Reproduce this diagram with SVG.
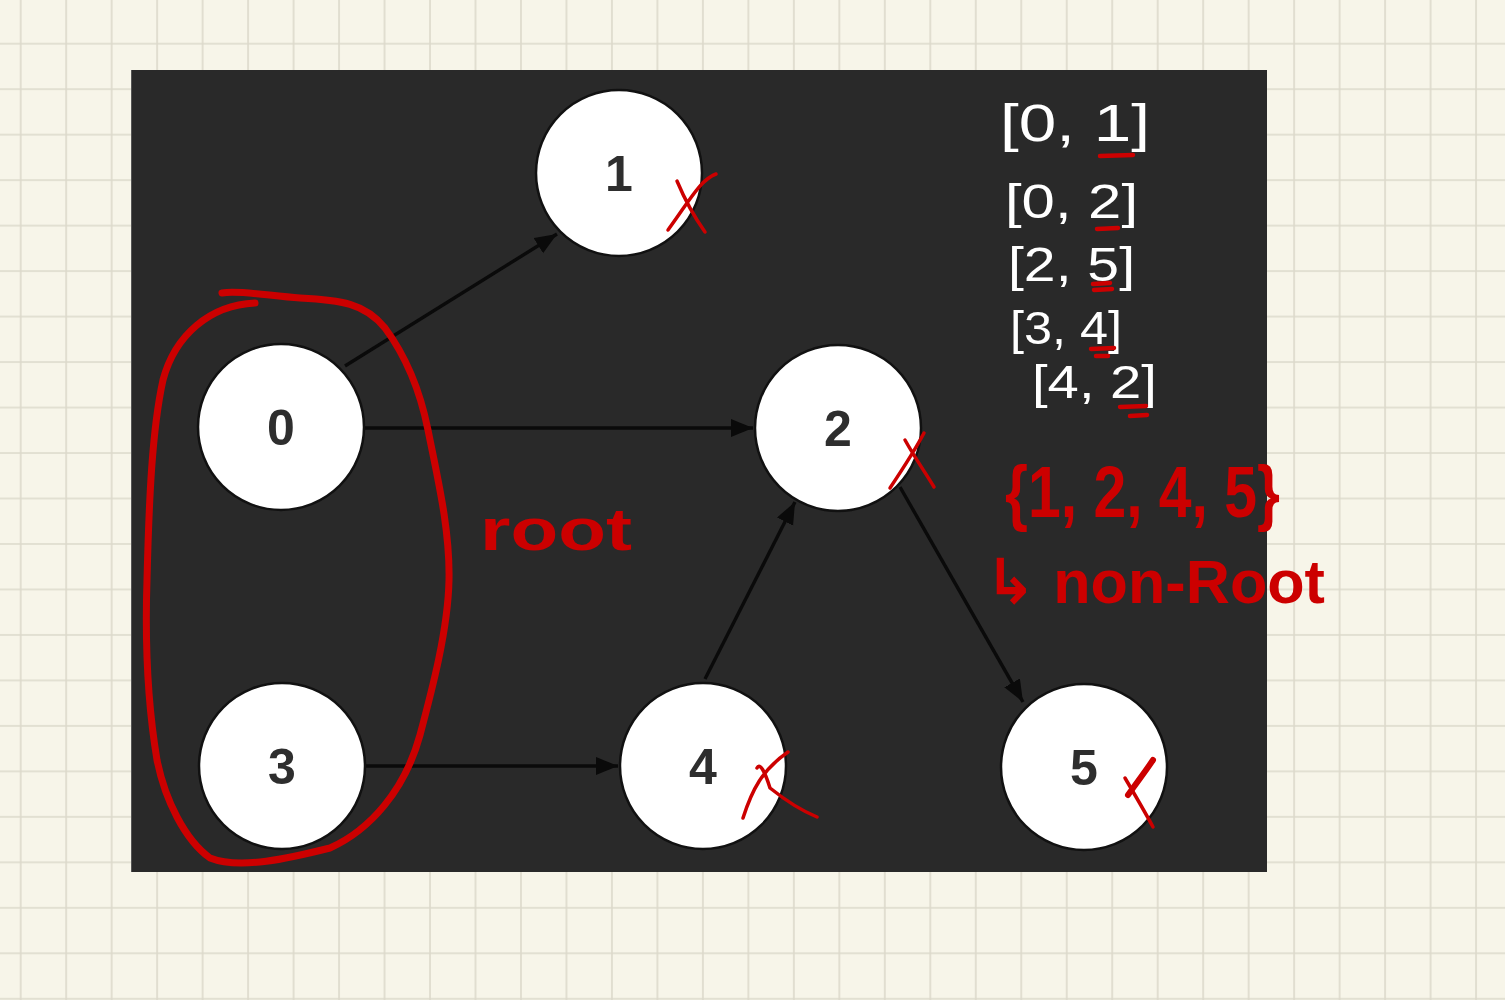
<svg xmlns="http://www.w3.org/2000/svg" width="1505" height="1000" viewBox="0 0 1505 1000">
  <defs>
    <pattern id="grid" patternUnits="userSpaceOnUse" x="-2.04" y="20.96" width="45.48" height="45.48">
      <rect width="45.48" height="45.48" fill="#f7f5e9"/>
      <path d="M22.74,0 V45.48 M0,22.74 H45.48" stroke="#dcd9cb" stroke-width="1.6" fill="none"/>
    </pattern>
    <marker id="arrow" markerUnits="userSpaceOnUse" markerWidth="24" markerHeight="20" refX="22" refY="9" orient="auto">
      <path d="M0,0 L22,9 L0,18 z" fill="#0a0a0a"/>
    </marker>
    <style>
      .node circle { fill: #ffffff; stroke: #111111; stroke-width: 2.5; }
      .node text { font-family: "Liberation Sans", Arial, sans-serif; font-size: 50px; font-weight: bold; fill: #2e2e2e; text-anchor: middle; }
      .edge { stroke: #0a0a0a; stroke-width: 3.4; fill: none; marker-end: url(#arrow); }
      .ink { fill: none; stroke: #cc0000; stroke-linecap: round; stroke-linejoin: round; }
      .white { font-family: "Liberation Sans", Arial, sans-serif; fill: #ffffff; }
      .red { font-family: "Liberation Sans", "DejaVu Sans", sans-serif; fill: #cc0000; font-weight: bold; }
    </style>
  </defs>

  <rect x="0" y="0" width="1505" height="1000" fill="url(#grid)"/>
  <rect x="131.5" y="70" width="1135.5" height="802" fill="#292929"/>
  <line x1="131.5" y1="70" x2="131.5" y2="872" stroke="#555555" stroke-width="1"/>

  <g id="connectors">
    <line class="edge" x1="345" y1="366" x2="557" y2="234"/>
    <line class="edge" x1="365" y1="428" x2="753" y2="428"/>
    <line class="edge" x1="365" y1="766" x2="618" y2="766"/>
    <line class="edge" x1="705" y1="679" x2="795" y2="502"/>
    <line class="edge" x1="900" y1="487" x2="1023" y2="702"/>
  </g>

  <g id="node-0" class="node"><circle cx="281" cy="427" r="83"/><text x="281" y="445">0</text></g>
  <g id="node-1" class="node"><circle cx="619" cy="173" r="83"/><text x="619" y="191">1</text></g>
  <g id="node-2" class="node"><circle cx="838" cy="428" r="83"/><text x="838" y="446">2</text></g>
  <g id="node-3" class="node"><circle cx="282" cy="766" r="83"/><text x="282" y="784">3</text></g>
  <g id="node-4" class="node"><circle cx="703" cy="766" r="83"/><text x="703" y="784">4</text></g>
  <g id="node-5" class="node"><circle cx="1084" cy="767" r="83"/><text x="1084" y="785">5</text></g>

  <g id="annotations">
    <path class="ink" stroke-width="7" d="M222,293 C240,290 270,296 300,298 C340,300 365,303 385,328 C405,355 420,390 428,430 C438,480 450,530 449,580 C448,630 432,690 420,735 C405,790 370,830 330,848 C290,858 240,870 210,858 C185,840 165,800 157,760 C147,700 145,640 147,580 C149,500 152,430 163,380 C175,335 210,305 255,303"/>
    <text class="red" x="480" y="550" font-size="60" textLength="152" lengthAdjust="spacingAndGlyphs">root</text>

    <path class="ink" stroke-width="3.5" d="M677,181 C685,200 695,218 705,232 M716,174 C700,180 690,200 668,230"/>
    <path class="ink" stroke-width="3.5" d="M924,433 C915,450 902,470 890,488 M905,440 C915,458 925,472 934,487"/>
    <path class="ink" stroke-width="3.5" d="M743,818 C752,790 762,770 788,752 M757,768 C760,762 765,772 770,788 C785,800 800,810 817,817"/>
    <path class="ink" stroke-width="3.5" d="M1125,778 C1135,795 1145,812 1153,827"/>
    <path class="ink" stroke-width="6" d="M1153,760 C1145,772 1135,785 1128,795"/>

    <text class="white" x="1000" y="141" font-size="52" textLength="150" lengthAdjust="spacingAndGlyphs">[0, 1]</text>
    <text class="white" x="1005" y="218" font-size="48" textLength="133" lengthAdjust="spacingAndGlyphs">[0, 2]</text>
    <text class="white" x="1008" y="281" font-size="48" textLength="127" lengthAdjust="spacingAndGlyphs">[2, 5]</text>
    <text class="white" x="1010" y="344" font-size="46" textLength="112" lengthAdjust="spacingAndGlyphs">[3, 4]</text>
    <text class="white" x="1032" y="398" font-size="46" textLength="125" lengthAdjust="spacingAndGlyphs">[4, 2]</text>

    <path class="ink" stroke-width="4.5" d="M1100,156 L1133,155 M1097,229 L1118,228 M1093,284 L1110,283 M1094,290 L1112,289 M1091,349 L1114,348 M1096,356 L1108,356 M1120,407 L1146,406 M1130,416 L1147,415"/>

    <text class="red" x="1005" y="517" font-size="72" textLength="275" lengthAdjust="spacingAndGlyphs">{1, 2, 4, 5}</text>
    <text class="red" x="985" y="603" font-size="62" textLength="340" lengthAdjust="spacingAndGlyphs">↳ non-Root</text>
  </g>
</svg>
